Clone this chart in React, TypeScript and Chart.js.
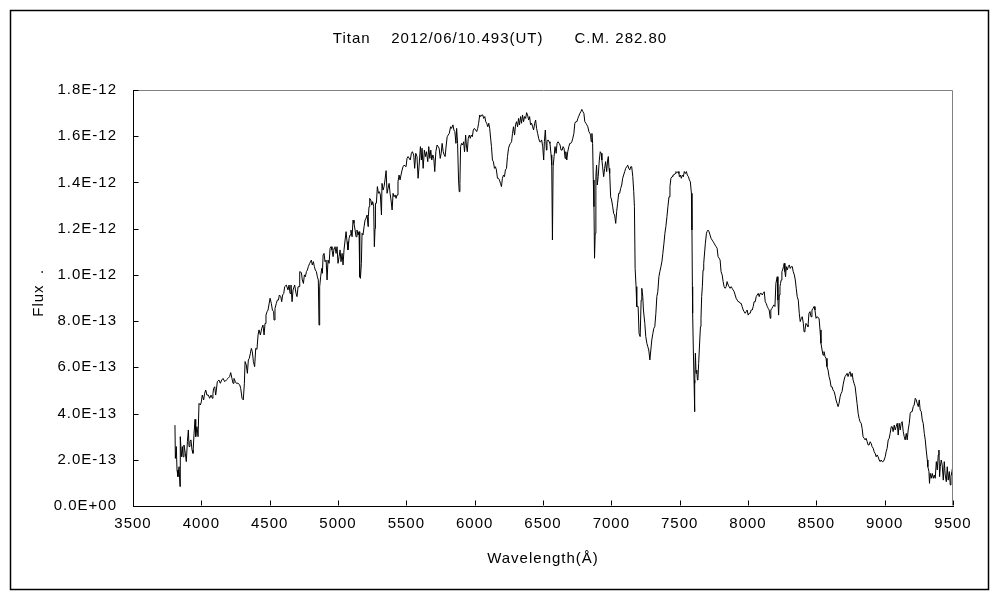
import { useEffect, useRef } from "react";
import { Chart, registerables } from "chart.js";

Chart.register(...registerables);

const TITLE = "Titan    2012/06/10.493(UT)      C.M. 282.80";
const X_TITLE = "Wavelength(\u212B)";
const Y_TITLE = "  Flux  .";
const X_MIN = 3500;
const X_MAX = 9500;
const X_STEP = 500;
const Y_MIN = 0;
const Y_MAX = 1.8; // in units of 1E-12
const Y_STEP = 0.2;

// Wavelength (Å)
const wavelength = [
  3807, 3810, 3817, 3822, 3829, 3837, 3844, 3846, 3854, 3861, 3866, 3873, 3883, 3890, 3898, 3905, 3910, 3917, 3924, 3932,
  3939, 3946, 3954, 3959, 3968, 3976, 3983, 3993, 4000, 4007, 4017, 4024, 4032, 4041, 4051, 4061, 4071, 4081, 4085, 4090,
  4098, 4105, 4110, 4117, 4129, 4139, 4149, 4159, 4171, 4183, 4195, 4207, 4215, 4224, 4232, 4239, 4249, 4256, 4268, 4281,
  4288, 4298, 4307, 4315, 4320, 4329, 4337, 4344, 4351, 4359, 4366, 4373, 4381, 4390, 4398, 4407, 4415, 4422, 4432, 4442,
  4451, 4459, 4466, 4473, 4481, 4488, 4495, 4503, 4512, 4520, 4529, 4532, 4539, 4549, 4556, 4564, 4571, 4581, 4588, 4595,
  4603, 4610, 4622, 4634, 4642, 4649, 4656, 4664, 4671, 4683, 4693, 4700, 4708, 4715, 4720, 4732, 4739, 4747, 4754, 4761,
  4769, 4776, 4783, 4793, 4805, 4812, 4820, 4827, 4834, 4842, 4849, 4856, 4861, 4866, 4873, 4881, 4886, 4891, 4898, 4905,
  4913, 4920, 4927, 4935, 4942, 4949, 4956, 4964, 4971, 4978, 4986, 4993, 5000, 5008, 5015, 5022, 5030, 5037, 5044, 5052,
  5059, 5066, 5073, 5081, 5088, 5095, 5103, 5110, 5117, 5125, 5132, 5139, 5147, 5154, 5159, 5164, 5171, 5176, 5183, 5191,
  5198, 5205, 5213, 5220, 5222, 5227, 5232, 5240, 5247, 5254, 5261, 5266, 5271, 5274, 5281, 5288, 5296, 5303, 5310, 5318,
  5322, 5330, 5337, 5344, 5352, 5359, 5366, 5374, 5381, 5388, 5396, 5403, 5410, 5418, 5425, 5432, 5439, 5447, 5454, 5461,
  5469, 5476, 5483, 5491, 5498, 5505, 5513,
  5529, 5537, 5544, 5554, 5561, 5569, 5578, 5586, 5593, 5603, 5610, 5615, 5623, 5632, 5640, 5647, 5657, 5664, 5672, 5679,
  5686, 5694, 5701, 5708, 5716, 5725, 5733, 5740, 5748, 5755, 5762, 5770, 5777, 5784, 5792, 5799, 5806, 5814, 5824, 5831,
  5841, 5848, 5855, 5863, 5868, 5875, 5882, 5887, 5892, 5897, 5904, 5912, 5919, 5926, 5934, 5939, 5946, 5953, 5961, 5968,
  5975, 5983, 5990, 5998, 6007, 6015, 6022, 6029, 6037, 6044, 6051, 6059, 6066, 6074, 6081, 6088, 6096, 6103, 6110, 6118,
  6123, 6130, 6137, 6145, 6152, 6159, 6167, 6174, 6181, 6189, 6196, 6203, 6211, 6218, 6225, 6233, 6240, 6248, 6255, 6262,
  6270, 6277, 6284, 6292, 6299, 6306, 6314, 6321, 6328, 6336, 6343, 6350, 6358, 6365, 6373, 6380, 6387, 6395, 6402, 6409,
  6417, 6424, 6431, 6439, 6446, 6453, 6461, 6468, 6476, 6483, 6490, 6498, 6505, 6510, 6517, 6525, 6529, 6537, 6544, 6551,
  6559, 6564, 6569, 6574, 6581, 6588, 6596, 6603, 6610, 6618, 6625, 6632, 6640, 6647, 6654, 6662, 6667, 6674, 6681, 6689,
  6696, 6703, 6711, 6718, 6726, 6733, 6740, 6748, 6755, 6762, 6770, 6777, 6784, 6792, 6799, 6806, 6814, 6821, 6828, 6836,
  6843, 6848, 6853, 6858, 6863, 6868, 6873, 6877, 6882, 6887, 6892, 6897, 6904, 6912, 6919, 6926, 6931, 6936, 6944, 6951,
  6958, 6966, 6973, 6978, 6983, 6988, 6995, 7002, 7010, 7017, 7024, 7032, 7039, 7046, 7054, 7061, 7068, 7076, 7083, 7090,
  7098, 7105, 7113, 7120, 7127, 7135, 7142, 7149, 7157, 7164, 7169, 7174, 7181, 7186, 7196, 7203, 7211, 7218, 7223, 7230,
  7235, 7245, 7252, 7260, 7267, 7274, 7282, 7289, 7296, 7304, 7311, 7318, 7326, 7333, 7340, 7348, 7355, 7363, 7370, 7377,
  7385, 7392, 7399, 7407, 7414, 7422, 7429, 7436, 7444, 7451, 7458, 7466, 7473, 7481, 7488, 7495,
  7498, 7505, 7512, 7520, 7527, 7534, 7542, 7549, 7556, 7564, 7571, 7578, 7586, 7590, 7593, 7595, 7600, 7605, 7608, 7610,
  7612, 7615, 7620, 7625, 7630, 7634, 7639, 7647, 7652, 7656, 7661, 7666, 7671, 7676, 7681, 7688, 7696, 7700, 7708, 7715,
  7722, 7730, 7737, 7745, 7752, 7759, 7767, 7774, 7781, 7789, 7796, 7803, 7811, 7818, 7825, 7833, 7840, 7847, 7855, 7862,
  7869, 7877, 7884, 7891, 7899, 7906, 7913, 7921, 7928, 7935, 7943, 7950, 7957, 7965, 7972, 7979, 7987, 7994, 8001, 8009,
  8016, 8023, 8031, 8038, 8045, 8053, 8060, 8067, 8075, 8082, 8089, 8097, 8104, 8111, 8119, 8126, 8133, 8141, 8148, 8155,
  8163, 8167, 8175, 8182, 8189, 8197, 8204, 8209, 8214, 8219, 8224, 8229, 8234, 8238, 8243, 8248, 8253, 8260, 8265, 8270,
  8275, 8280, 8287, 8295, 8302, 8309, 8317, 8324, 8331, 8339, 8346, 8353, 8360, 8368, 8375, 8382, 8390, 8397, 8405, 8410,
  8417, 8424, 8432, 8439, 8446, 8454, 8461, 8468, 8476, 8483, 8490, 8498, 8505, 8512, 8520, 8527, 8534, 8542, 8549, 8556,
  8564, 8571, 8578, 8586, 8593, 8600, 8608, 8615, 8622, 8630, 8637, 8644, 8652, 8659, 8666, 8674, 8681, 8688, 8696, 8703,
  8710, 8718, 8725, 8732, 8740, 8747, 8754, 8762, 8769, 8776, 8784, 8791, 8798, 8806, 8813, 8820, 8828, 8835, 8842, 8850,
  8857, 8864, 8872, 8879, 8886, 8894, 8901, 8908, 8916, 8923, 8930, 8938, 8945, 8952, 8960, 8967, 8974, 8982, 8989, 8996,
  9004, 9011, 9018, 9026, 9033, 9040, 9048, 9055, 9062, 9070, 9077, 9084, 9092, 9099, 9106, 9114, 9121, 9128, 9136, 9143,
  9150, 9158, 9165, 9172, 9180, 9187, 9194, 9201, 9209, 9216, 9224, 9231, 9238, 9246, 9253, 9260, 9268, 9275, 9282, 9290,
  9297, 9304, 9312, 9316, 9324, 9328, 9333, 9341, 9348, 9356, 9363, 9370, 9378, 9385, 9392, 9397, 9402, 9407, 9414, 9421,
  9429, 9436, 9443, 9451, 9458, 9465, 9473, 9480, 9485, 9492, 9500,
];

// Flux, in units of 1E-12
const flux = [
  0.350, 0.206, 0.257, 0.156, 0.127, 0.170, 0.084, 0.300, 0.213, 0.257, 0.213, 0.264, 0.228, 0.192, 0.278, 0.329, 0.257, 0.278, 0.286, 0.242,
  0.228, 0.307, 0.375, 0.300, 0.343, 0.300, 0.444, 0.437, 0.451, 0.480, 0.459, 0.487, 0.502, 0.480, 0.480, 0.466, 0.480, 0.466, 0.487, 0.509,
  0.516, 0.480, 0.502, 0.538, 0.545, 0.531, 0.545, 0.552, 0.538, 0.545, 0.552, 0.560, 0.577, 0.552, 0.531, 0.552, 0.538, 0.531, 0.531, 0.524,
  0.509, 0.466, 0.459, 0.531, 0.625, 0.610, 0.574, 0.632, 0.639, 0.661, 0.682, 0.668, 0.625, 0.603, 0.682, 0.678, 0.740, 0.762, 0.740, 0.769,
  0.783, 0.740, 0.790, 0.826, 0.841, 0.848, 0.848, 0.899, 0.877, 0.848, 0.841, 0.805, 0.855, 0.877, 0.891, 0.891, 0.913, 0.906, 0.884, 0.913,
  0.920, 0.949, 0.956, 0.935, 0.956, 0.920, 0.956, 0.884, 0.935, 0.956, 0.920, 0.906, 0.949, 0.949, 1.014, 1.010, 0.978, 0.963, 1.000, 0.992,
  1.014, 1.021, 1.036, 1.050, 1.064, 1.043, 1.057, 1.036, 1.021, 1.014, 0.992, 0.978, 0.783, 0.949, 0.992, 1.028, 1.007, 1.086, 1.093, 1.057,
  1.064, 0.978, 1.064, 1.050, 1.115, 1.122, 1.108, 1.079, 1.115, 1.122, 1.093, 1.122, 1.050, 1.079, 1.108, 1.057, 1.093, 1.043, 1.108, 1.151,
  1.187, 1.144, 1.108, 1.158, 1.173, 1.194, 1.165, 1.237, 1.223, 1.194, 1.165, 1.194, 1.173, 1.187, 0.992, 0.985, 1.050, 1.180, 1.173, 1.209,
  1.237, 1.245, 1.259, 1.209, 1.252, 1.295, 1.331, 1.324, 1.302, 1.317, 1.295, 1.122, 1.201, 1.310, 1.310, 1.382, 1.353, 1.360, 1.346, 1.259,
  1.396, 1.367, 1.382, 1.411, 1.451, 1.353, 1.374, 1.396, 1.353, 1.324, 1.281, 1.353, 1.338, 1.346, 1.331, 1.346, 1.403, 1.432, 1.411, 1.432,
  1.454, 1.468, 1.475, 1.471, 1.468, 1.504, 1.512,
  1.497, 1.526, 1.533, 1.519, 1.461, 1.526, 1.512, 1.418, 1.468, 1.555, 1.497, 1.548, 1.461, 1.540, 1.512, 1.533, 1.490, 1.555, 1.504, 1.540,
  1.497, 1.519, 1.504, 1.447, 1.533, 1.562, 1.555, 1.548, 1.504, 1.526, 1.569, 1.533, 1.519, 1.512, 1.562, 1.598, 1.605, 1.612, 1.641, 1.634,
  1.649, 1.627, 1.620, 1.569, 1.634, 1.569, 1.411, 1.360, 1.396, 1.555, 1.569, 1.562, 1.576, 1.533, 1.605, 1.562, 1.533, 1.591, 1.605, 1.591,
  1.605, 1.598, 1.627, 1.634, 1.627, 1.620, 1.634, 1.656, 1.692, 1.685, 1.692, 1.692, 1.677, 1.685, 1.663, 1.656, 1.641, 1.656, 1.634, 1.584,
  1.555, 1.497, 1.490, 1.461, 1.468, 1.454, 1.418, 1.418, 1.411, 1.396, 1.382, 1.418, 1.432, 1.425, 1.454, 1.461, 1.512, 1.548, 1.562, 1.569,
  1.576, 1.612, 1.641, 1.605, 1.649, 1.663, 1.641, 1.677, 1.649, 1.685, 1.656, 1.692, 1.663, 1.685, 1.677, 1.702, 1.692, 1.670, 1.685, 1.649,
  1.656, 1.641, 1.627, 1.656, 1.670, 1.634, 1.612, 1.591, 1.576, 1.576, 1.584, 1.555, 1.497, 1.576, 1.627, 1.540, 1.576, 1.584, 1.576, 1.569,
  1.519, 1.475, 1.151, 1.468, 1.512, 1.555, 1.526, 1.569, 1.576, 1.569, 1.562, 1.540, 1.540, 1.555, 1.548, 1.504, 1.533, 1.497, 1.533, 1.555,
  1.569, 1.569, 1.576, 1.591, 1.612, 1.656, 1.663, 1.663, 1.677, 1.687, 1.699, 1.706, 1.716, 1.706, 1.699, 1.663, 1.656, 1.649, 1.641, 1.620,
  1.612, 1.605, 1.576, 1.612, 1.569, 1.411, 1.295, 1.072, 1.180, 1.425, 1.475, 1.389, 1.425, 1.497, 1.533, 1.526, 1.497, 1.468, 1.425, 1.461,
  1.490, 1.447, 1.497, 1.512, 1.461, 1.439, 1.338, 1.324, 1.295, 1.266, 1.259, 1.223, 1.274, 1.310, 1.353, 1.353, 1.374, 1.389, 1.418, 1.432,
  1.447, 1.461, 1.468, 1.475, 1.461, 1.454, 1.468, 1.468, 1.425, 1.360, 1.295, 1.028, 0.949, 0.863, 0.863, 0.747, 0.733, 0.891, 0.942, 0.906,
  0.848, 0.790, 0.733, 0.704, 0.689, 0.675, 0.632, 0.675, 0.718, 0.747, 0.769, 0.776, 0.834, 0.906, 0.927, 0.992, 1.014, 1.036, 1.057, 1.093,
  1.137, 1.180, 1.209, 1.252, 1.295, 1.338, 1.382, 1.418, 1.425, 1.432, 1.432, 1.439, 1.447, 1.442, 1.447, 1.439,
  1.425, 1.432, 1.418, 1.432, 1.425, 1.447, 1.439, 1.447, 1.432, 1.425, 1.411, 1.403, 1.353, 1.194, 0.949, 0.834, 0.675, 0.545, 0.473, 0.408,
  0.531, 0.661, 0.574, 0.588, 0.545, 0.552, 0.617, 0.718, 0.776, 0.812, 0.906, 0.949, 1.021, 1.050, 1.086, 1.137, 1.180, 1.187, 1.194, 1.187,
  1.173, 1.158, 1.151, 1.144, 1.137, 1.129, 1.122, 1.115, 1.079, 1.072, 1.064, 1.014, 1.000, 0.971, 0.949, 0.942, 0.949, 0.971, 0.956, 0.949,
  0.942, 0.949, 0.942, 0.935, 0.927, 0.913, 0.899, 0.891, 0.884, 0.884, 0.877, 0.877, 0.863, 0.848, 0.841, 0.834, 0.841, 0.848, 0.826, 0.834,
  0.834, 0.848, 0.848, 0.863, 0.884, 0.884, 0.906, 0.913, 0.920, 0.906, 0.920, 0.920, 0.913, 0.920, 0.927, 0.884, 0.877, 0.863, 0.855, 0.848,
  0.812, 0.848, 0.855, 0.863, 0.870, 0.863, 0.963, 0.978, 0.992, 0.891, 0.826, 0.913, 0.949, 0.963, 0.978, 1.014, 1.021, 1.036, 1.050, 1.014,
  0.992, 1.036, 1.021, 1.036, 1.043, 1.028, 1.036, 1.036, 1.014, 1.000, 0.978, 0.942, 0.906, 0.891, 0.834, 0.798, 0.812, 0.819, 0.790, 0.754,
  0.762, 0.790, 0.783, 0.776, 0.834, 0.841, 0.819, 0.848, 0.855, 0.863, 0.848, 0.812, 0.819, 0.819, 0.812, 0.762, 0.704, 0.675, 0.653, 0.668,
  0.646, 0.639, 0.603, 0.588, 0.560, 0.545, 0.516, 0.516, 0.502, 0.495, 0.480, 0.459, 0.444, 0.430, 0.444, 0.473, 0.487, 0.495, 0.524, 0.545,
  0.560, 0.567, 0.574, 0.560, 0.574, 0.581, 0.560, 0.574, 0.545, 0.531, 0.516, 0.480, 0.444, 0.401, 0.379, 0.365, 0.358, 0.336, 0.300, 0.293,
  0.286, 0.293, 0.278, 0.264, 0.264, 0.278, 0.271, 0.257, 0.250, 0.235, 0.228, 0.213, 0.221, 0.213, 0.199, 0.192, 0.199, 0.192, 0.192, 0.199,
  0.213, 0.235, 0.250, 0.286, 0.293, 0.314, 0.343, 0.343, 0.322, 0.350, 0.329, 0.343, 0.358, 0.307, 0.358, 0.329, 0.358, 0.365, 0.322, 0.300,
  0.286, 0.314, 0.286, 0.329, 0.358, 0.401, 0.408, 0.408, 0.430, 0.437, 0.466, 0.459, 0.444, 0.430, 0.459, 0.415, 0.408, 0.372, 0.358, 0.314,
  0.286, 0.242, 0.199, 0.170, 0.149, 0.098, 0.141, 0.120, 0.141, 0.120, 0.134, 0.120, 0.192, 0.156, 0.221, 0.242, 0.127, 0.170, 0.199, 0.177,
  0.112, 0.192, 0.134, 0.105, 0.170, 0.112, 0.149, 0.091, 0.127, 0.149, 0.177,
];

const FONT_FAMILY = "'Liberation Sans', 'Noto Sans CJK JP', sans-serif";

function formatFlux(v: number): string {
  if (Math.abs(v) < 1e-9) return "0.0E+00";
  if (v >= 0.999) return v.toFixed(1) + "E-12";
  return (v * 10).toFixed(1) + "E-13";
}

const framePlugin = {
  id: "frame",
  beforeDraw(chart: any) {
    chart.ctx.letterSpacing = "1px";
  },
  afterDraw(chart: any) {
    const { ctx, chartArea: a, scales } = chart;
    const L = Math.round(a.left) + 0.5;
    const R = Math.round(a.right) - 0.5;
    const T = Math.round(a.top) + 0.5;
    const B = Math.round(a.bottom) - 0.5;
    ctx.save();
    ctx.lineWidth = 1;
    ctx.strokeStyle = "#808080";
    ctx.beginPath();
    ctx.moveTo(L + 1, T);
    ctx.lineTo(R, T);
    ctx.lineTo(R, B);
    ctx.stroke();
    ctx.strokeStyle = "#000000";
    ctx.beginPath();
    scales.x.ticks.forEach((t: any) => {
      const px = Math.round(scales.x.getPixelForValue(t.value)) + 0.5;
      ctx.moveTo(px, B);
      ctx.lineTo(px, B - 5);
    });
    scales.y.ticks.forEach((t: any) => {
      const py = Math.round(scales.y.getPixelForValue(t.value)) + 0.5;
      ctx.moveTo(L, py);
      ctx.lineTo(L + 5, py);
    });
    ctx.stroke();
    ctx.lineWidth = 1.5;
    ctx.strokeRect(10.5, 10.5, 978, 579);
    ctx.restore();
  },
};

export default function App() {
  const canvasRef = useRef<HTMLCanvasElement | null>(null);

  useEffect(() => {
    const canvas = canvasRef.current;
    if (!canvas) return;
    const points = wavelength.map((w, i) => ({ x: w, y: flux[i] }));
    const chart = new Chart(canvas, {
      type: "line",
      data: {
        datasets: [
          {
            data: points,
            borderColor: "#000000",
            borderWidth: 1,
            pointRadius: 0,
            tension: 0,
            fill: false,
          },
        ],
      },
      options: {
        animation: false,
        responsive: false,
        devicePixelRatio: 1,
        layout: { padding: { left: 47, right: 47, top: 0, bottom: 0 } },
        font: { family: FONT_FAMILY },
        plugins: {
          legend: { display: false },
          tooltip: { enabled: false },
          title: {
            display: true,
            text: TITLE,
            color: "#000000",
            font: { family: FONT_FAMILY, size: 15, weight: "normal" },
            padding: { top: 30, bottom: 42 },
          },
        },
        scales: {
          x: {
            type: "linear",
            min: X_MIN,
            max: X_MAX,
            offset: false,
            grid: { display: false, drawTicks: false },
            border: { display: true, color: "#000000", width: 1 },
            ticks: {
              stepSize: X_STEP,
              color: "#000000",
              padding: 9,
              maxRotation: 0,
              autoSkip: false,
              font: { family: FONT_FAMILY, size: 15 },
              callback: (v: any) => String(v),
            },
            title: {
              display: true,
              text: X_TITLE,
              color: "#000000",
              font: { family: FONT_FAMILY, size: 15 },
              padding: { top: 0, bottom: 32 },
            },
            afterFit: (s: any) => {
              s.height = 94;
            },
          },
          y: {
            type: "linear",
            min: Y_MIN,
            max: Y_MAX,
            grid: { display: false, drawTicks: false },
            border: { display: true, color: "#000000", width: 1 },
            ticks: {
              stepSize: Y_STEP,
              color: "#000000",
              padding: 16,
              autoSkip: false,
              font: { family: FONT_FAMILY, size: 15 },
              callback: (v: any) => formatFlux(Number(v)),
            },
            title: {
              display: true,
              text: Y_TITLE,
              color: "#000000",
              font: { family: FONT_FAMILY, size: 15 },
              padding: { top: -17, bottom: 0 },
            },
            afterFit: (s: any) => {
              s.width = 86;
            },
          },
        },
      } as any,
      plugins: [framePlugin],
    });
    return () => chart.destroy();
  }, []);

  return (
    <div
      style={{
        position: "fixed",
        left: 0,
        top: 0,
        width: 1000,
        height: 600,
        background: "#ffffff",
      }}
    >
      <canvas ref={canvasRef} width={1000} height={600} style={{ display: "block" }} />
    </div>
  );
}
